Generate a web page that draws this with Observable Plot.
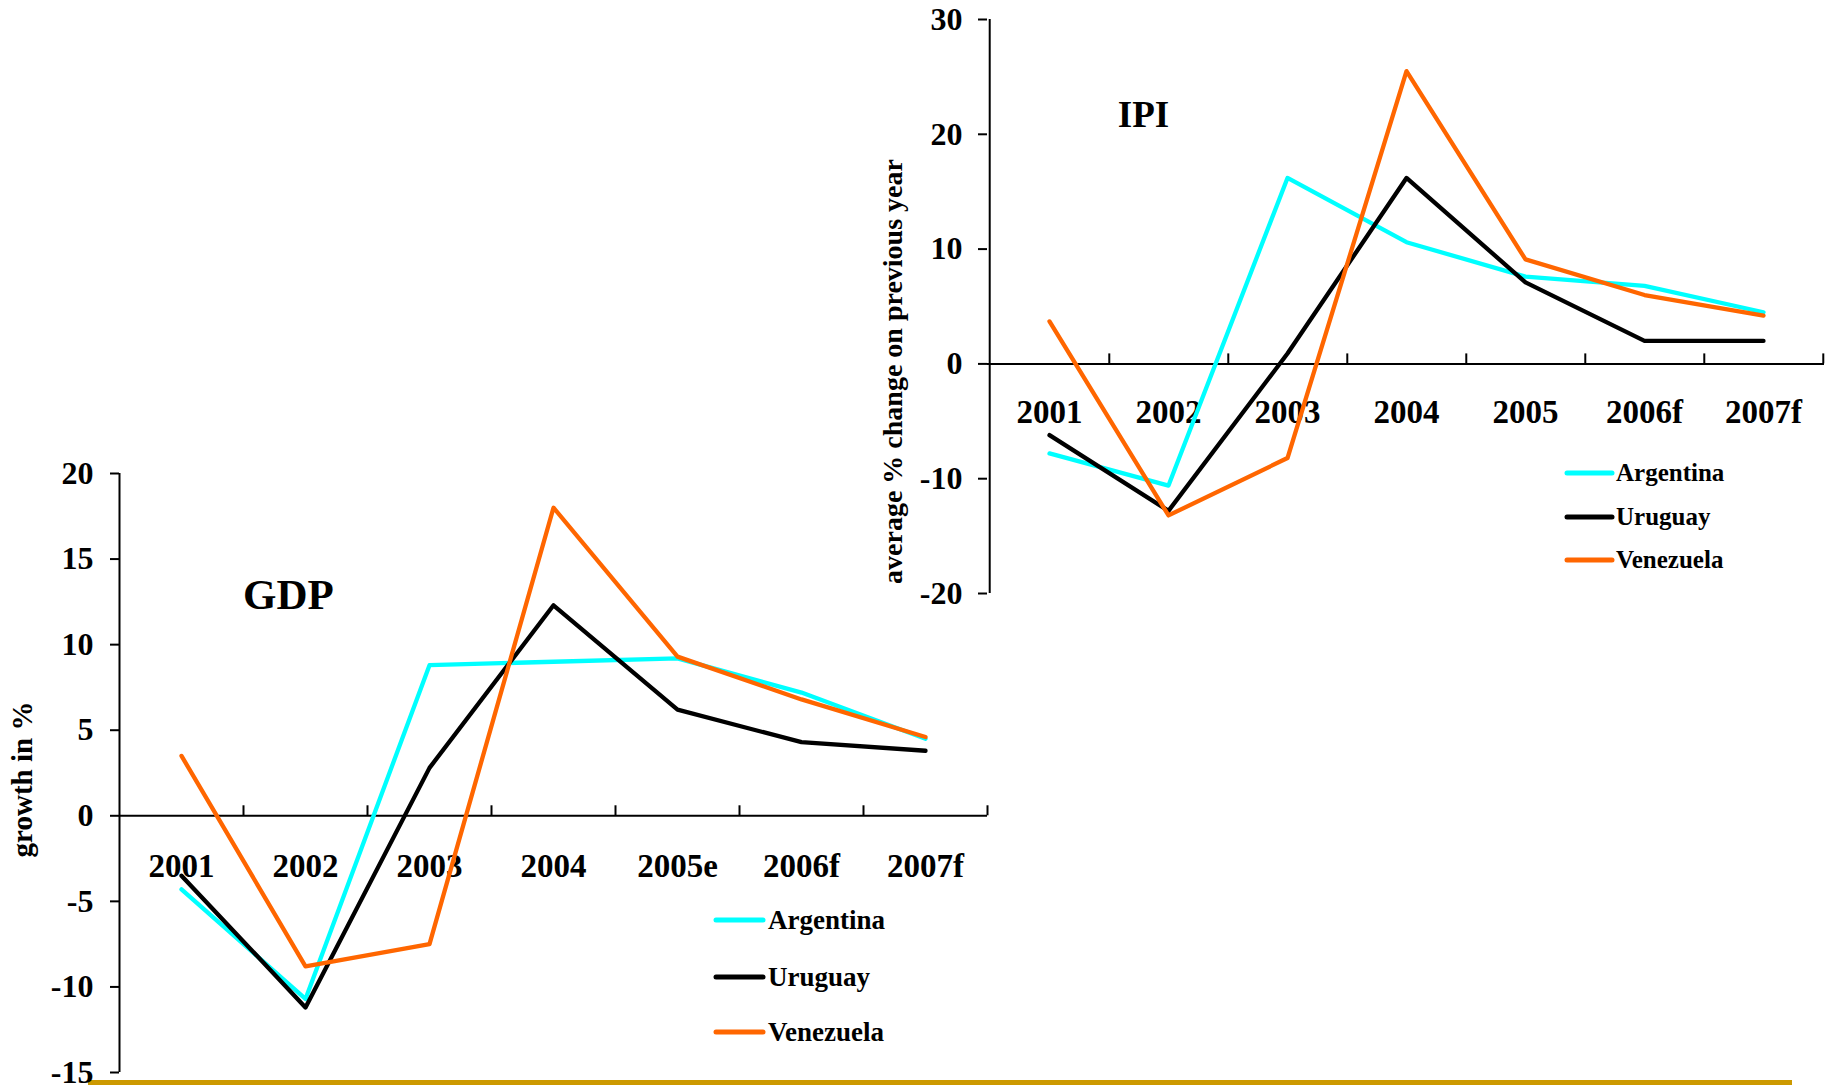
<!DOCTYPE html>
<html>
<head>
<meta charset="utf-8">
<script src="https://cdn.jsdelivr.net/npm/d3@7"></script>
<script src="https://cdn.jsdelivr.net/npm/@observablehq/plot@0.6"></script>
<style>
  html, body { margin: 0; padding: 0; background: #fff; }
  #page {
    position: relative; width: 1829px; height: 1086px; overflow: hidden; background: #fff;
    font-family: "Liberation Serif", "Times New Roman", serif;
  }
  #page > * { position: absolute; }
  #baseline-rule { left: 88px; top: 1080px; width: 1704px; height: 5px; background: #CC9900; }
  .chart g[aria-label^="y-axis"] line,
  .chart g[aria-label^="y-axis"] path { stroke-width: 2px; }
</style>
</head>
<body>
<div id="page"><div id="baseline-rule"></div></div>
<script>
// Countries and their line colours
const series = ["Argentina", "Uruguay", "Venezuela"];
const seriesColors = ["#00FFFF", "#000000", "#FF6600"];

// Real GDP growth, % (e = estimate, f = forecast)
const gdpYears = ["2001", "2002", "2003", "2004", "2005e", "2006f", "2007f"];
const gdpArgentina = [-4.3, -10.7, 8.8, 9.0, 9.2, 7.2, 4.5];
const gdpUruguay = [-3.5, -11.2, 2.8, 12.3, 6.2, 4.3, 3.8];
const gdpVenezuela = [3.5, -8.8, -7.5, 18.0, 9.3, 6.8, 4.6];
const gdpTicks = [-15, -10, -5, 0, 5, 10, 15, 20];

// Industrial production index, average % change on previous year
const ipiYears = ["2001", "2002", "2003", "2004", "2005", "2006f", "2007f"];
const ipiArgentina = [-7.8, -10.6, 16.2, 10.6, 7.6, 6.8, 4.5];
const ipiUruguay = [-6.2, -12.8, 0.9, 16.2, 7.1, 2.0, 2.0];
const ipiVenezuela = [3.7, -13.2, -8.2, 25.5, 9.1, 6.0, 4.2];
const ipiTicks = [-20, -10, 0, 10, 20, 30];

const FONT = '"Liberation Serif", "Times New Roman", serif';

function panel({years, values, ticks, title, yLabel, left, top, width, height,
                margin, tickPadding, titleSize, titleOffset, labelSize, labelOffset, xLabelDy}) {
  const [mt, mr, mb, ml] = margin;
  const step = (width - ml - mr) / years.length;
  const lines = values.map((vals, k) =>
    Plot.line(years, {
      x: d => d, y: (d, i) => vals[i],
      stroke: seriesColors[k], strokeWidth: 4.3,
      strokeLinejoin: "round", strokeLinecap: "round"
    })
  );
  const svg = Plot.plot({
    width, height,
    marginTop: mt, marginRight: mr, marginBottom: mb, marginLeft: ml,
    style: {
      position: "absolute", left: left + "px", top: top + "px",
      background: "transparent", overflow: "visible", color: "black",
      fontFamily: FONT, fontSize: "32px", fontWeight: "bold"
    },
    x: {type: "point", domain: years, padding: 0.5, axis: null},
    y: {
      domain: [ticks[0], ticks[ticks.length - 1]], ticks,
      tickSize: 9, tickPadding, tickFormat: d => String(d), label: null
    },
    marks: [
      // vertical axis line along the left edge of the first category
      Plot.ruleX([years[0]], {x: d => d, dx: -step / 2, stroke: "black", strokeWidth: 2}),
      // horizontal axis at zero
      Plot.ruleY([0], {stroke: "black", strokeWidth: 2}),
      // category separators, pointing up from the zero line
      Plot.ruleX(years, {x: d => d, y1: 0, y2: 0, insetBottom: 10, dx: step / 2,
                         stroke: "black", strokeWidth: 2}),
      // category labels under the zero line
      Plot.text(years, {x: d => d, y: 0, text: d => d, dy: xLabelDy,
                        fontSize: 33, fontWeight: "bold", fill: "black"}),
      ...lines,
      Plot.text([title], {frameAnchor: "top-left", dx: titleOffset[0], dy: titleOffset[1],
                          textAnchor: "middle", lineAnchor: "middle",
                          fontSize: titleSize, fontWeight: "bold", fill: "black"}),
      Plot.text([yLabel], {frameAnchor: "left", dx: labelOffset[0], dy: labelOffset[1],
                           rotate: -90, textAnchor: "middle", lineAnchor: "middle",
                           fontSize: labelSize, fontWeight: "bold", fill: "black"})
    ]
  });
  svg.classList.add("chart");
  return svg;
}

const page = document.getElementById("page");

page.appendChild(panel({
  years: gdpYears, values: [gdpArgentina, gdpUruguay, gdpVenezuela], ticks: gdpTicks,
  title: "GDP", yLabel: "growth in %",
  left: 0, top: 440, width: 1010, height: 646, margin: [33, 23, 14, 119],
  tickPadding: 17, titleSize: 43, titleOffset: [169, 122],
  labelSize: 29, labelOffset: [-97, 6.5], xLabelDy: 50.7
}));

page.appendChild(panel({
  years: ipiYears, values: [ipiArgentina, ipiUruguay, ipiVenezuela], ticks: ipiTicks,
  title: "IPI", yLabel: "average % change on previous year",
  left: 860, top: 0, width: 969, height: 620, margin: [19, 5, 27, 127],
  tickPadding: 16, titleSize: 37, titleOffset: [156, 96],
  labelSize: 28, labelOffset: [-94.6, 65], xLabelDy: 48.7
}));

// Legends for both panels
const legendLayer = d3.select(page).append("svg")
  .attr("width", 1829).attr("height", 1086)
  .style("left", "0px").style("top", "0px")
  .style("pointer-events", "none");

function legend(x0, x1, textX, rows, fontSize) {
  const g = legendLayer.append("g")
    .attr("font-family", FONT).attr("font-weight", "bold").attr("font-size", fontSize);
  series.forEach((name, i) => {
    g.append("line").attr("x1", x0).attr("x2", x1).attr("y1", rows[i]).attr("y2", rows[i])
      .attr("stroke", seriesColors[i]).attr("stroke-width", 5).attr("stroke-linecap", "round");
    g.append("text").attr("x", textX).attr("y", rows[i]).attr("dy", "0.33em")
      .attr("fill", "black").text(name);
  });
}
legend(716, 763, 768, [920, 977, 1032], 27);
legend(1567, 1612, 1616, [473, 517, 560], 25);
</script>
</body>
</html>
